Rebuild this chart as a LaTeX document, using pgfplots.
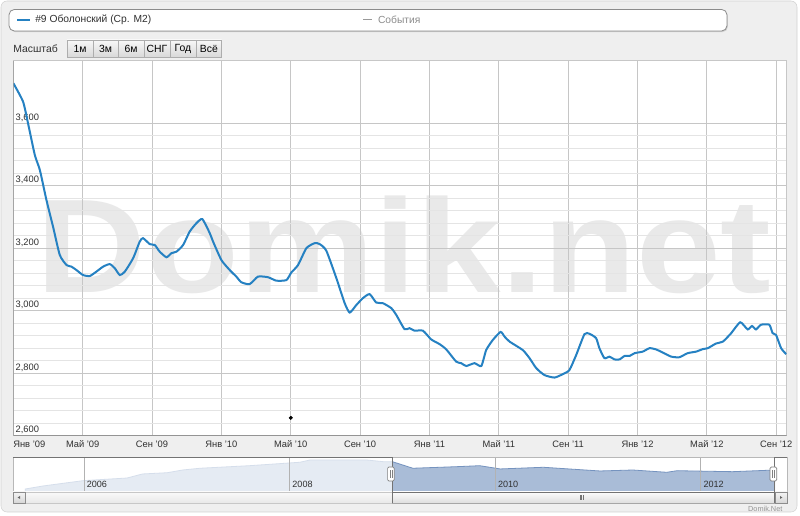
\documentclass[border=0pt]{standalone}
\usepackage{pgfplots}
\usepackage{pgfplotstable}
\pgfplotsset{compat=1.18}
\usepackage{fontspec}
\setmainfont{Liberation Sans}

\definecolor{panel}{HTML}{EFEFEF}
\definecolor{panelborder}{HTML}{D2D2D2}
\definecolor{series}{HTML}{2581C2}
\definecolor{gridmaj}{HTML}{C6C6C6}
\definecolor{gridmin}{HTML}{E4E4E4}
\definecolor{navfill}{HTML}{A9BCD7}
\definecolor{navline}{HTML}{7593BF}
\definecolor{txt}{HTML}{303030}
\definecolor{mark}{HTML}{E9E9E9}

% month index: 0 = Jan 2009
\pgfplotstableread{
m v
0.00 3729
0.56 3670
0.85 3600
1.24 3499
1.53 3451
1.91 3355
2.29 3270
2.68 3179
3.07 3147
3.35 3142
3.64 3131
4.02 3115
4.41 3112
4.79 3126
5.18 3142
5.56 3150
5.85 3137
6.14 3115
6.43 3126
6.91 3169
7.29 3222
7.48 3233
7.87 3214
8.16 3211
8.44 3190
8.83 3172
9.12 3185
9.41 3190
9.79 3211
10.17 3254
10.56 3281
10.90 3294
11.33 3249
11.52 3222
12.00 3163
12.48 3131
12.86 3110
13.15 3092
13.63 3086
14.11 3110
14.69 3108
15.17 3097
15.75 3099
16.03 3123
16.42 3147
16.90 3201
17.38 3217
17.67 3214
18.05 3193
18.63 3105
19.11 3025
19.40 2995
19.78 3019
20.16 3041
20.55 3054
20.93 3027
21.31 3025
21.80 3009
22.09 2987
22.56 2942
22.85 2945
23.14 2937
23.62 2937
24.10 2909
24.58 2894
24.97 2877
25.54 2838
25.83 2833
26.12 2824
26.60 2833
26.99 2824
27.27 2875
27.65 2907
28.10 2933
28.33 2918
28.62 2902
29.38 2875
29.77 2849
30.16 2817
30.63 2795
31.21 2787
31.69 2798
32.07 2811
32.46 2859
32.94 2926
33.23 2927
33.61 2913
33.80 2881
34.09 2849
34.38 2854
34.67 2845
34.96 2845
35.25 2856
35.54 2856
35.83 2865
36.30 2870
36.69 2881
37.07 2877
37.45 2867
37.94 2854
38.41 2852
38.89 2865
39.38 2870
39.76 2878
40.05 2881
40.53 2896
40.92 2902
41.40 2929
41.92 2964
42.35 2941
42.60 2952
42.83 2941
43.12 2956
43.60 2956
43.79 2929
43.99 2923
44.28 2881
44.57 2862
}\mainseries

% navigator: year, value
\pgfplotstableread{
y v
2005.43 340
2005.60 680
2005.99 1285
2006.42 1590
2006.57 2050
2006.81 2190
2006.96 2500
2007.13 2700
2007.61 2990
2008.10 3380
2008.20 3640
2008.75 3640
2008.91 3450
2009.00 3450
2009.20 2700
2009.63 2880
2009.85 2990
2010.05 2620
2010.47 2810
2011.02 2390
2011.34 2500
2011.67 2240
2011.77 2420
2012.31 2310
2012.72 2500
}\navseries

\begin{document}
\begin{tikzpicture}[font=\fontsize{7}{8}\selectfont]
\useasboundingbox (0,0) rectangle (600pt,387pt);
\fill[white] (0,0) rectangle (600pt,387pt);
\filldraw[fill=panel, draw=panelborder, rounded corners=4.5pt] (0.75pt,3pt) rectangle (597.75pt,386.25pt);

% series box
\fill[black!18, rounded corners=4pt] (7.5pt,362.9pt) rectangle (545.9pt,379pt);
\filldraw[fill=white, draw=black!45, line width=0.6pt, rounded corners=4pt] (6.75pt,363.75pt) rectangle (545.25pt,379.9pt);
\draw[series, line width=1.5pt] (12.75pt,372pt) -- (22.5pt,372pt);
\node[anchor=west, inner sep=0, text=txt, font=\fontsize{7.7}{9}\selectfont] at (26.25pt,372pt) {\#9 Оболонский (Ср. М2)};
\draw[black!40, line width=0.75pt] (272.25pt,372pt) -- (279pt,372pt);
\node[anchor=west, inner sep=0, text=black!45, font=\fontsize{7.7}{9}\selectfont] at (283.3pt,372pt) {События};

% zoom buttons
\node[anchor=west, inner sep=0, text=txt, font=\fontsize{7.8}{9}\selectfont] at (9.75pt,350.6pt) {Масштаб};
\foreach \a/\b/\t in {50.25/69.75/1м, 69.75/88.75/3м, 88.75/108/6м, 108/127.5/СНГ, 127.5/147/Год, 147/166.25/Всё} {
  \shadedraw[top color=black!3, bottom color=black!15, draw=black!32] (\a pt,344.25pt) rectangle (\b pt,357pt);
  \node[inner sep=0, text=black, font=\fontsize{7.8}{9}\selectfont] at ({(\a pt+\b pt)/2},350.6pt) {\t};
}

% plot area and watermark
\fill[white] (10pt,60pt) rectangle (590pt,341.25pt);
\node[anchor=base, inner sep=0, text=mark, xscale=1.14, font=\fontsize{100}{100}\selectfont\bfseries] at (303pt,167.25pt) {Domik.net};

\begin{axis}[
  at={(10pt,60pt)}, anchor=south west,
  scale only axis, width=580pt, height=281.25pt,
  xmin=0, xmax=44.6, ymin=2600, ymax=3800,
  xtick={0,4,...,44},
  xticklabels={\rlap{Янв '09}, Май '09, Сен '09, Янв '10, Май '10, Сен '10, Янв '11, Май '11, Сен '11, Янв '12, Май '12, Сен '12},
  ytick={2600,2800,...,3600},
  minor y tick num=4,
  xmajorgrids, ymajorgrids, yminorgrids,
  major grid style={gridmaj, line width=0.75pt},
  minor grid style={gridmin, line width=0.75pt},
  major tick length=0pt, minor tick length=0pt,
  axis line style={black!22, line width=0.75pt},
  /pgf/number format/assume math mode=true,
  /pgf/number format/1000 sep={,},
  tick label style={font=\fontsize{7}{8}\selectfont, text=txt},
  yticklabel style={anchor=south west, inner sep=1.5pt},
  xticklabel style={anchor=north, inner sep=1.5pt, yshift=-2pt},
]
\addplot[series, line width=1.5pt, smooth, tension=0.35] table[x=m, y=v] {\mainseries};
\addplot[only marks, mark=*, mark size=1.3pt, black] coordinates {(16,2658)};
\draw[black!42, line width=0.75pt] (rel axis cs:0,1) -- (rel axis cs:0,0) -- (rel axis cs:1,0);
\end{axis}

% navigator
\fill[white] (9.75pt,18pt) rectangle (590.25pt,44.25pt);
\begin{axis}[
  at={(9.75pt,18pt)}, anchor=south west,
  scale only axis, width=580.5pt, height=26.25pt,
  xmin=2005.31, xmax=2012.84, ymin=0, ymax=3980,
  xtick={2006,2008,2010,2012},
  ytick=\empty,
  xmajorgrids,
  major grid style={black!30, line width=0.6pt},
  major tick length=0pt,
  axis line style={draw=none},
  axis on top,
  xticklabel style={anchor=south west, inner sep=2pt, yshift=1.4pt, font=\fontsize{6.8}{8}\selectfont, text=txt},
  /pgf/number format/assume math mode=true,
  /pgf/number format/1000 sep={},
]
\addplot[fill=navfill, draw=navline, line width=0.6pt] table[x=y, y=v] {\navseries} \closedcycle;
\fill[white, opacity=0.7] (axis cs:2005.31,0) rectangle (axis cs:2009.0,3980);
\fill[white, opacity=0.7] (axis cs:2012.72,0) rectangle (axis cs:2012.84,3980);
\end{axis}
\draw[black!28, line width=0.5pt] (9.75pt,18pt) rectangle (590.25pt,44.25pt);

% scrollbar
\shadedraw[top color=black!2, bottom color=black!9, draw=black!22] (18.75pt,9.75pt) rectangle (581.25pt,18pt);
\shadedraw[top color=black!1, bottom color=black!13, draw=black!35] (294.3pt,9.75pt) rectangle (581.25pt,18pt);
\foreach \dx in {-1.2,0,1.2} \draw[black!55, line width=0.4pt] (436.3pt+\dx pt,12.3pt) -- (436.3pt+\dx pt,15.5pt);
\shadedraw[top color=black!4, bottom color=black!16, draw=black!45] (9.75pt,9.75pt) rectangle (18.75pt,18pt);
\fill[black!60] (13.2pt,13.9pt) -- (15pt,15pt) -- (15pt,12.8pt) -- cycle;
\shadedraw[top color=black!4, bottom color=black!16, draw=black!45] (581.25pt,9.75pt) rectangle (590.25pt,18pt);
\fill[black!60] (586.8pt,13.9pt) -- (585pt,15pt) -- (585pt,12.8pt) -- cycle;

% navigator outline and handles
\draw[black!55, line width=0.6pt] (9.75pt,44.25pt) -- (294.3pt,44.25pt) -- (294.3pt,9.75pt);
\draw[black!55, line width=0.6pt] (294.3pt,18pt) -- (581.1pt,18pt);
\draw[black!55, line width=0.6pt] (581.1pt,9.75pt) -- (581.1pt,44.25pt) -- (590.25pt,44.25pt);
\foreach \hx in {293.2,580.0} {
  \filldraw[fill=white, draw=black!50, line width=0.5pt, rounded corners=1pt] (\hx pt-2.5pt,26.25pt) rectangle (\hx pt+2.5pt,36.75pt);
  \draw[black!50, line width=0.4pt] (\hx pt-0.7pt,28.5pt) -- (\hx pt-0.7pt,34.5pt) (\hx pt+0.7pt,28.5pt) -- (\hx pt+0.7pt,34.5pt);
}

\node[anchor=east, inner sep=0, text=black!42, font=\fontsize{5.5}{6}\selectfont] at (587pt,5.6pt) {Domik.Net};
\end{tikzpicture}
\end{document}
